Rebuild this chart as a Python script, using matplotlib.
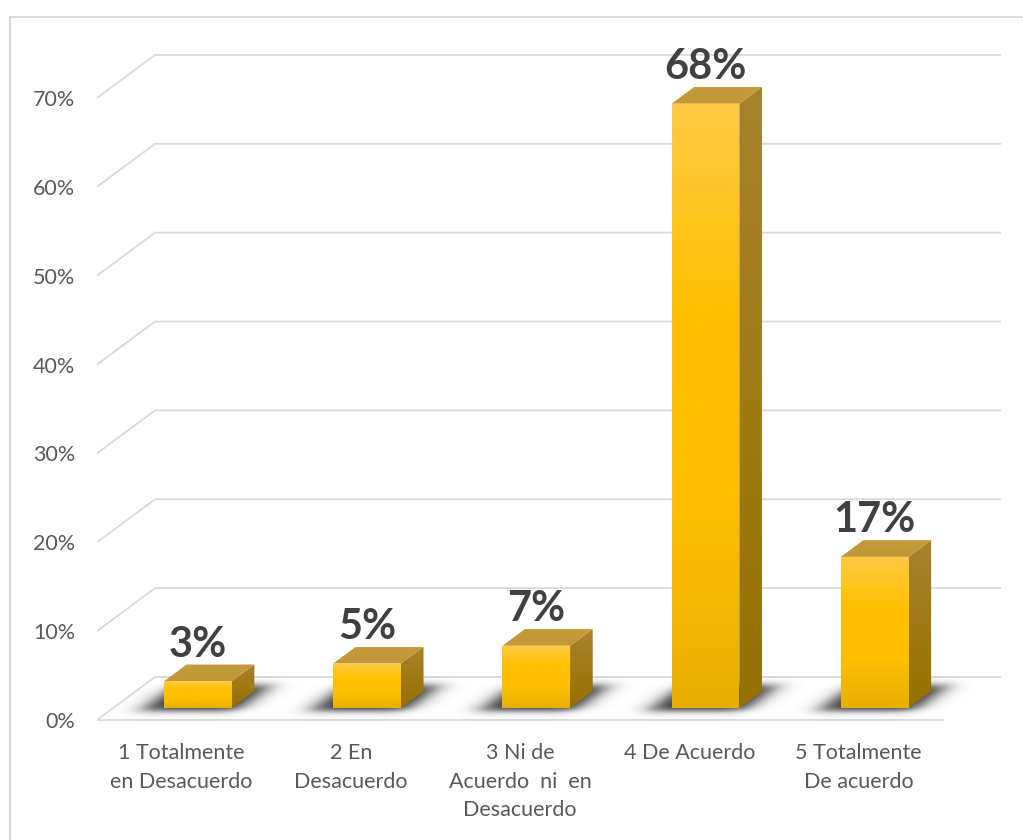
import numpy as np
import matplotlib.pyplot as plt
from matplotlib.patches import Polygon, Rectangle
from matplotlib.colors import LinearSegmentedColormap

categories = ['1 Totalmente\nen Desacuerdo', '2 En\nDesacuerdo',
              '3 Ni de\nAcuerdo  ni  en\nDesacuerdo', '4 De Acuerdo',
              '5 Totalmente\nDe acuerdo']
values = [3, 5, 7, 68, 17]
yticks = [0, 10, 20, 30, 40, 50, 60, 70]

# floor depth in data units (x = category, y = percent)
DX, DY = 0.343, 4.84
BAR_W = 0.40
F0, F1 = 0.28, 0.67   # front / back of the bars as a fraction of the floor depth
GRID = '#D9D9D9'

plt.rcParams['font.family'] = ['Lato', 'DejaVu Sans']

fig = plt.figure(figsize=(10.23, 8.4), dpi=100)
ax = fig.add_axes([97 / 1023, 0.1323, (1010.7 - 97) / 1023, 0.8569])


def gradient_poly(verts, colors, z):
    poly = Polygon(verts, closed=True, facecolor='none', edgecolor='none')
    ax.add_patch(poly)
    xs, ys = zip(*verts)
    cmap = LinearSegmentedColormap.from_list('g', colors)
    grad = np.linspace(0, 1, 256).reshape(-1, 1)
    im = ax.imshow(grad, cmap=cmap, origin='lower', aspect='auto',
                   extent=(min(xs), max(xs), min(ys), max(ys)),
                   interpolation='bilinear', zorder=z)
    im.set_clip_path(poly)


def sig(t):
    return 1 / (1 + np.exp(-t))


def floor_shadow(i):
    xs = np.linspace(i - 0.75, i + 0.75, 300)
    ys = np.linspace(-0.5, DY, 120)
    X, Y = np.meshgrid(xs, ys)
    s = Y / DY
    u = X - s * DX
    ul, ur = i - BAR_W / 2 - 0.11, i + BAR_W / 2 + 0.06
    k = 0.04
    a = sig((u - ul) / k) * sig((ur - u) / k)
    a *= sig((s - (F0 - 0.08)) / 0.045) * sig(((F1 + 0.12) - s) / 0.05)
    rgba = np.zeros(X.shape + (4,))
    rgba[..., 3] = 0.8 * a
    ax.imshow(rgba, origin='lower', aspect='auto', interpolation='bilinear',
              extent=(xs[0], xs[-1], ys[0], ys[-1]), zorder=2)


# back wall and floor grid
for t in yticks:
    xs = [-0.5, -0.5 + DX, 4.5 + DX]
    ys = [t, t + DY, t + DY]
    ax.plot(xs, ys, color=GRID, lw=1.3, zorder=1, solid_capstyle='butt')
ax.plot([-0.5, 4.5], [0, 0], color=GRID, lw=1.3, zorder=1)

ddx, ddy = (F1 - F0) * DX, (F1 - F0) * DY
for i, v in enumerate(values):
    x0 = i + F0 * DX - BAR_W / 2
    y0 = F0 * DY
    floor_shadow(i)
    front = [(x0, y0), (x0 + BAR_W, y0), (x0 + BAR_W, y0 + v), (x0, y0 + v)]
    side = [(x0 + BAR_W, y0), (x0 + BAR_W + ddx, y0 + ddy),
            (x0 + BAR_W + ddx, y0 + v + ddy), (x0 + BAR_W, y0 + v)]
    top = [(x0, y0 + v), (x0 + BAR_W, y0 + v),
           (x0 + BAR_W + ddx, y0 + v + ddy), (x0 + ddx, y0 + v + ddy)]
    gradient_poly(front, ['#E6AE00', '#FFC000', '#FFC000', '#FFCA45'], 3)
    gradient_poly(side, ['#967100', '#A07A14', '#A8832E'], 3)
    gradient_poly(top, ['#C29735', '#C49C3C'], 3)
    ax.text(i + F0 * DX, y0 + v + ddy + 0.9, f'{v}%', ha='center',
            va='baseline', fontsize=30, fontweight='bold', color='#404040',
            zorder=5)

ax.set_xlim(-0.5, 4.9)
ax.set_ylim(-1, 80)
ax.set_yticks(yticks, [f'{t}%' for t in yticks])
ax.set_xticks(range(len(categories)), categories, linespacing=1.55)
ax.tick_params(axis='y', length=0, pad=15.5, labelsize=15.5, labelcolor='#595959')
ax.tick_params(axis='x', length=0, pad=10, labelsize=15.5, labelcolor='#595959')
for sp in ax.spines.values():
    sp.set_visible(False)
ax.patch.set_visible(False)

fig.add_artist(Rectangle((10 / 1023, -0.05), 1.1, (840 - 17) / 840 + 0.05,
                         transform=fig.transFigure, fill=False,
                         edgecolor=GRID, lw=1.5))

fig.savefig('out.png', dpi=100)
